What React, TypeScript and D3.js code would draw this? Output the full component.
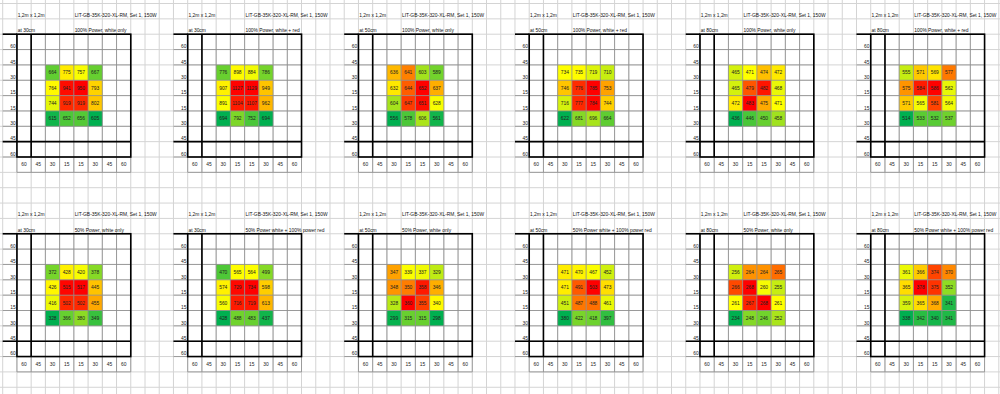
import React, { useEffect, useRef } from 'react';
import * as d3 from 'd3';

// sheet texts
const sheetSize = '1,2m x 1,2m';
const lampName = 'LIT-GB-35K-320-XL-RM, Set 1, 150W';
const distances = ['at 30cm', 'at 30cm', 'at 50cm', 'at 50cm', 'at 80cm', 'at 80cm'];
const topTitles = [
  '100% Power, white only', '100% Power, white + red',
  '100% Power, white only', '100% Power, white + red',
  '100% Power, white only', '100% Power, white + red'
];
const bottomTitles = [
  '50% Power, white only', '50% Power white + 100% power red',
  '50% Power, white only', '50% Power white + 100% power red',
  '50% Power, white only', '50% Power white + 100% power red'
];
const axisLabels = ['60', '45', '30', '15', '15', '30', '45', '60'];

// measured values (rows top -> bottom, columns left -> right)
const full_white_30 = [[664, 775, 757, 667], [764, 941, 950, 793], [744, 919, 919, 802], [615, 652, 656, 605]];
const full_red_30 = [[776, 898, 884, 786], [907, 1127, 1129, 949], [891, 1104, 1107, 962], [694, 792, 752, 694]];
const full_white_50 = [[636, 641, 603, 589], [632, 644, 652, 637], [604, 647, 651, 628], [556, 578, 606, 561]];
const full_red_50 = [[734, 735, 719, 710], [746, 776, 785, 753], [716, 777, 784, 744], [622, 681, 696, 664]];
const full_white_80 = [[465, 471, 474, 472], [465, 479, 482, 468], [472, 483, 475, 471], [436, 446, 450, 458]];
const full_red_80 = [[555, 571, 569, 577], [575, 584, 586, 562], [571, 565, 581, 564], [514, 533, 532, 537]];
const half_white_30 = [[372, 428, 420, 378], [426, 515, 517, 445], [416, 502, 502, 455], [328, 366, 380, 349]];
const half_red_30 = [[470, 565, 564, 499], [574, 729, 734, 598], [560, 716, 719, 613], [428, 488, 483, 437]];
const half_white_50 = [[347, 339, 337, 329], [348, 350, 358, 346], [328, 360, 355, 340], [299, 315, 315, 298]];
const half_red_50 = [[471, 470, 467, 452], [471, 491, 503, 473], [451, 487, 488, 461], [380, 422, 418, 397]];
const half_white_80 = [[256, 264, 264, 265], [266, 268, 260, 255], [261, 267, 268, 261], [234, 248, 246, 252]];
const half_red_80 = [[361, 366, 374, 370], [365, 378, 375, 352], [359, 365, 368, 341], [338, 342, 340, 341]];

const topValues = [full_white_30, full_red_30, full_white_50, full_red_50, full_white_80, full_red_80];
const bottomValues = [half_white_30, half_red_30, half_white_50, half_red_50, half_white_80, half_red_80];

const width = 1000;
const height = 394;

export const App: React.FC = () => {
  const svgRef = useRef<SVGSVGElement>(null);

  useEffect(() => {
    const svg = d3.select(svgRef.current);
    svg.selectAll('*').remove();

    const font = "'Liberation Sans', Arial, sans-serif";
    const fontSize = '4.9px';
    const nCols = 71;
    const nRows = 27;

    // spreadsheet grid as scales: column / row index -> pixel
    const x = d3.scaleLinear().domain([0, 70]).range([2.7, 2.7 + 70 * 14.23]);
    const y = d3.scaleLinear().domain([0, 25]).range([3.5, 3.5 + 25 * 15.35]);
    const cw = x(1) - x(0);
    const rh = y(1) - y(0);

    svg.append('rect').attr('width', width).attr('height', height).attr('fill', '#fff');

    const grid = svg.append('g').attr('stroke', '#d4d4d4').attr('stroke-width', 1);
    d3.range(-1, nCols).forEach(i => {
      grid.append('line').attr('x1', x(i)).attr('x2', x(i)).attr('y1', 0).attr('y2', height);
    });
    d3.range(-1, nRows).forEach(j => {
      grid.append('line').attr('y1', y(j)).attr('y2', y(j)).attr('x1', 0).attr('x2', width);
    });

    const panels = [
      ...topValues.map((v, i) => ({ values: v, title: topTitles[i], dist: distances[i], pc: i, pr: 0 })),
      ...bottomValues.map((v, i) => ({ values: v, title: bottomTitles[i], dist: distances[i], pc: i, pr: 1 }))
    ];
    const titleOffset = [5, 5, 4, 4, 4, 4];

    panels.forEach(p => {
      const c0 = 12 * p.pc;
      const r0 = 13 * p.pr;
      const g = svg.append('g');
      const sorted = p.values.flat().sort(d3.ascending);
      const color = d3.scaleLinear<string>()
        .domain([sorted[0], d3.quantileSorted(sorted, 0.5) as number, sorted[sorted.length - 1]])
        .range(['#00B050', '#FFFF00', '#FF0000']);

      // coloured cells
      p.values.forEach((row, ri) => {
        row.forEach((v, ci) => {
          g.append('rect')
            .attr('x', x(c0 + 3 + ci))
            .attr('y', y(r0 + 4 + ri))
            .attr('width', cw)
            .attr('height', rh)
            .attr('fill', color(v));
          g.append('text')
            .attr('x', x(c0 + 3 + ci + 0.5))
            .attr('y', y(r0 + 4 + ri + 0.5))
            .attr('dy', '0.35em')
            .attr('text-anchor', 'middle')
            .style('font-family', font)
            .style('font-size', fontSize)
            .style('fill', '#222')
            .text(v);
        });
      });

      // thin cell borders
      const thin = g.append('g').attr('stroke', '#8c8c8c').attr('stroke-width', 0.8);
      d3.range(1, 10).forEach(k => {
        thin.append('line').attr('x1', x(c0 + k)).attr('x2', x(c0 + k))
          .attr('y1', y(r0 + 2)).attr('y2', y(r0 + 11));
      });
      d3.range(2, 11).forEach(k => {
        thin.append('line').attr('y1', y(r0 + k)).attr('y2', y(r0 + k))
          .attr('x1', x(c0)).attr('x2', x(c0 + 9));
      });
      thin.append('line').attr('y1', y(r0 + 11)).attr('y2', y(r0 + 11))
        .attr('x1', x(c0 + 1)).attr('x2', x(c0 + 9));

      // thick borders
      const thick = g.append('g').attr('stroke', '#000').attr('stroke-width', 1.6).attr('fill', 'none');
      thick.append('rect')
        .attr('x', x(c0 + 1)).attr('y', y(r0 + 2))
        .attr('width', x(c0 + 9) - x(c0 + 1)).attr('height', y(r0 + 10) - y(r0 + 2));
      thick.append('line').attr('x1', x(c0 + 2)).attr('x2', x(c0 + 2))
        .attr('y1', y(r0 + 2)).attr('y2', y(r0 + 10));
      thick.append('line').attr('y1', y(r0 + 9)).attr('y2', y(r0 + 9))
        .attr('x1', x(c0)).attr('x2', x(c0 + 9));
      thick.append('line').attr('y1', y(r0 + 2)).attr('y2', y(r0 + 2))
        .attr('x1', x(c0)).attr('x2', x(c0 + 1));

      // axis labels
      axisLabels.forEach((lbl, k) => {
        g.append('text')
          .attr('x', x(c0 + 1) - 1.2)
          .attr('y', y(r0 + 3 + k) - 1.3)
          .attr('text-anchor', 'end')
          .style('font-family', font)
          .style('font-size', fontSize)
          .style('fill', '#222')
          .text(lbl);
        g.append('text')
          .attr('x', x(c0 + 1 + k + 0.5))
          .attr('y', y(r0 + 10.5))
          .attr('dy', '0.35em')
          .attr('text-anchor', 'middle')
          .style('font-family', font)
          .style('font-size', fontSize)
          .style('fill', '#222')
          .text(lbl);
      });

      // header texts
      const header = [
        { t: sheetSize, c: c0 + 1, r: r0 + 1 },
        { t: lampName, c: c0 + titleOffset[p.pc], r: r0 + 1 },
        { t: p.dist, c: c0 + 1, r: r0 + 2 },
        { t: p.title, c: c0 + titleOffset[p.pc], r: r0 + 2 }
      ];
      header.forEach(h => {
        g.append('text')
          .attr('x', x(h.c) + 0.8)
          .attr('y', y(h.r) - 2)
          .style('font-family', font)
          .style('font-size', fontSize)
          .style('fill', '#111')
          .text(h.t);
      });
    });
  }, []);

  return (
    <svg
      ref={svgRef}
      width={width}
      height={height}
      style={{ position: 'absolute', left: 0, top: 0, display: 'block' }}
    />
  );
};

export default App;
